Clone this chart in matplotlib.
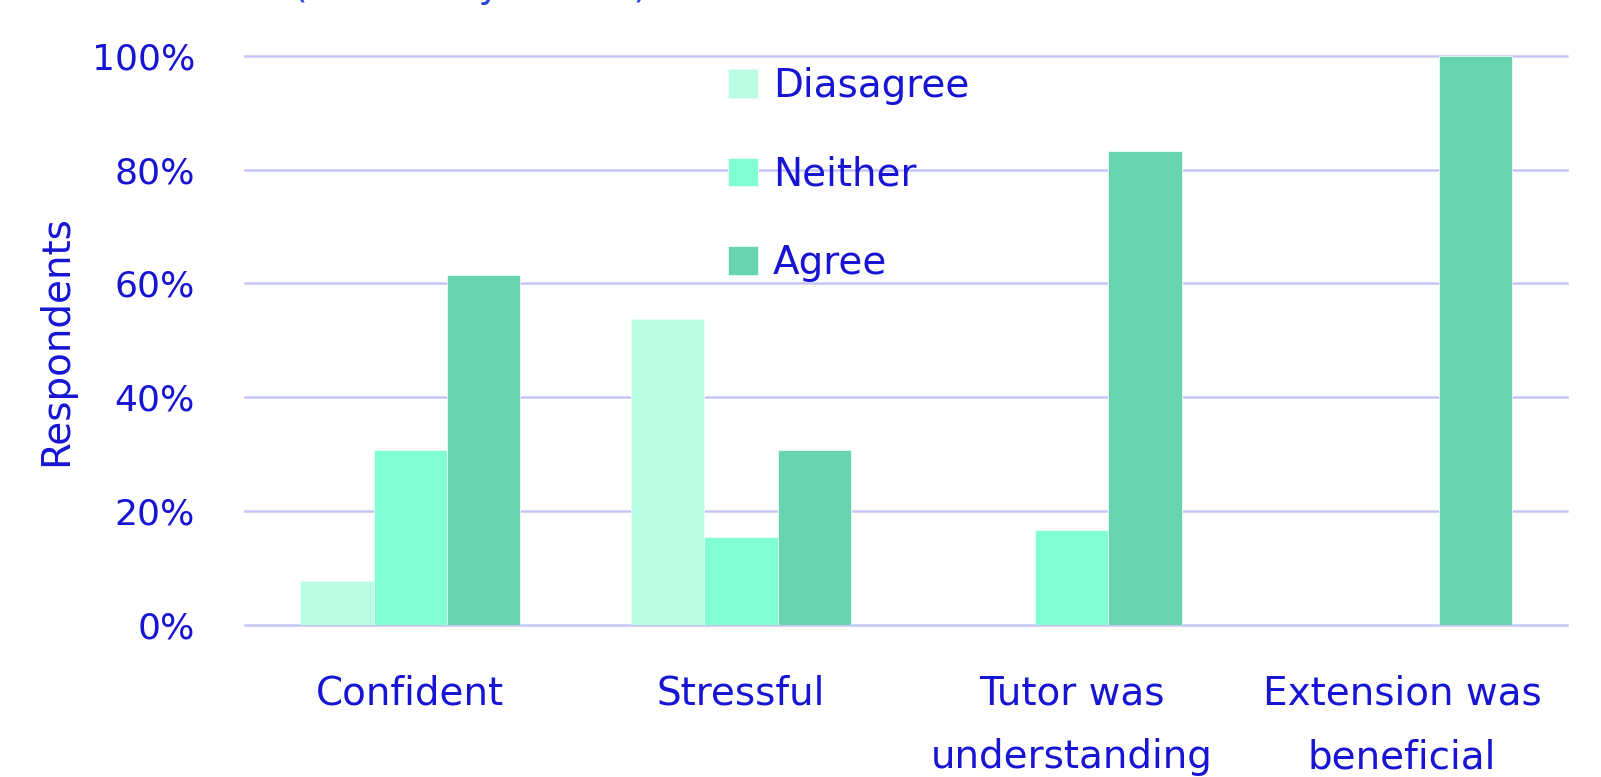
import numpy as np
import matplotlib.pyplot as plt
from matplotlib.ticker import PercentFormatter

plt.rcParams.update({
    "font.family": ["DejaVu Sans"],
    "font.size": 28,
})

BLUE = "#1714d4"
GRID = "#c6c6f6"

categories = ["Confident", "Stressful", "Tutor was\nunderstanding", "Extension was\nbeneficial"]
series = ["Diasagree", "Neither", "Agree"]
colors = ["#b9fde3", "#80ffd5", "#67d3af"]

# share of respondents, %
disagree = [7.7, 53.8, 0.0, 0.0]
neither = [30.8, 15.4, 16.7, 0.0]
agree = [61.5, 30.8, 83.3, 100.0]
values = [disagree, neither, agree]

fig = plt.figure(figsize=(16.01, 7.77), dpi=100)
ax = fig.add_axes([0.153, 0.196, 0.826, 0.732])

x = np.arange(len(categories))
w = 0.222
for i, (name, vals, col) in enumerate(zip(series, values, colors)):
    v = np.array(vals)
    pos = x + (i - 1) * w
    keep = v > 0
    ax.bar(pos[keep], v[keep], width=w, color=col, edgecolor="#e8fff6",
           linewidth=0.6, label=name, zorder=3)

ax.set_xlim(-0.5, len(categories) - 0.5)
ax.set_ylim(0, 100)
ax.set_yticks(np.arange(0, 101, 20))
ax.yaxis.set_major_formatter(PercentFormatter(decimals=0))
ax.grid(axis="y", color=GRID, lw=1.8, zorder=0)
for gl in ax.get_ygridlines():
    gl.set_clip_on(False)
ax.set_axisbelow(True)
for s in ax.spines.values():
    s.set_visible(False)

ax.set_xticks(x)
ax.set_xticklabels(categories, linespacing=1.85, va="top")
ax.tick_params(axis="x", length=0, pad=36, labelcolor=BLUE)
ax.tick_params(axis="y", length=0, pad=36, labelcolor=BLUE, labelsize=26)
ax.set_ylabel("Respondents", color=BLUE, labelpad=12)

leg = ax.legend(loc="upper left", bbox_to_anchor=(0.455, 0.914),
                bbox_transform=fig.transFigure, frameon=False,
                handlelength=0.75, handleheight=0.75, handletextpad=0.4,
                labelspacing=1.3, borderpad=0, borderaxespad=0)
for t in leg.get_texts():
    t.set_color(BLUE)

# title sits mostly above the canvas, only its lower edge shows
fig.text(0.183, 1 + 3 / 777, "(Results by theme)", color="#2a45d0",
         fontsize=27, ha="left", va="baseline")

fig.savefig("out.png", dpi=100)
